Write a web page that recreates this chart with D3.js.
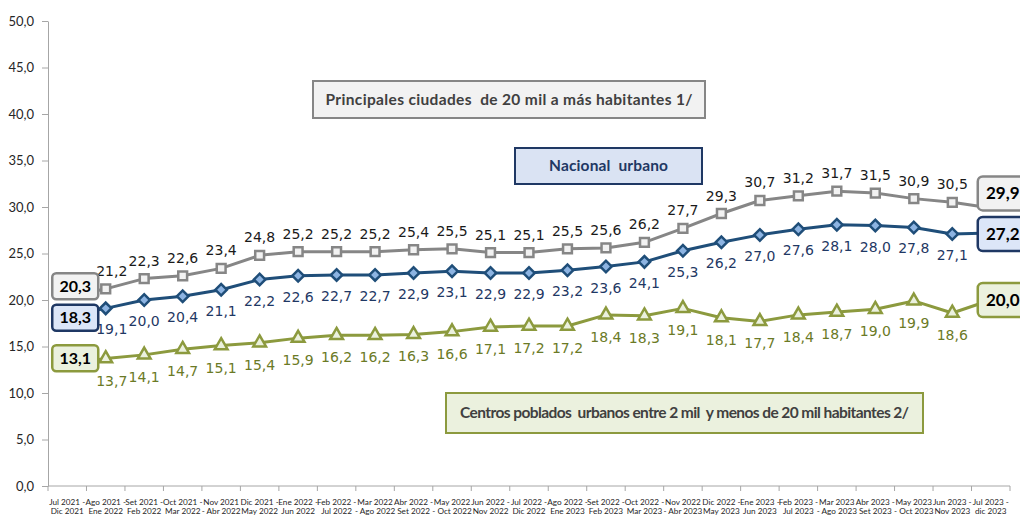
<!DOCTYPE html>
<html>
<head>
<meta charset="utf-8">
<script src="https://cdn.jsdelivr.net/npm/d3@7"></script>
<style>
  body { margin: 0; background: #fff; }
  svg { display: block; font-family: Lato, "Open Sans", sans-serif; }
</style>
</head>
<body>
<svg id="chart" width="1020" height="516"></svg>
<script>
// categories (as wrapped on the axis)
const categories = [
  "Jul 2021 -\nDic 2021", "Ago 2021 -\nEne 2022", "Set 2021 -\nFeb 2022", "Oct 2021 -\nMar 2022",
  "Nov 2021\n- Abr 2022", "Dic 2021 -\nMay 2022", "Ene 2022 -\nJun 2022", "Feb 2022 -\nJul 2022",
  "Mar 2022\n- Ago 2022", "Abr 2022 -\nSet 2022", "May 2022\n- Oct 2022", "Jun 2022 -\nNov 2022",
  "Jul 2022 -\nDic 2022", "Ago 2022 -\nEne 2023", "Set 2022 -\nFeb 2023", "Oct 2022 -\nMar 2023",
  "Nov 2022\n- Abr 2023", "Dic 2022 -\nMay 2023", "Ene 2023 -\nJun 2023", "Feb 2023 -\nJul 2023",
  "Mar 2023\n- Ago 2023", "Abr 2023 -\nSet 2023", "May 2023\n- Oct 2023", "Jun 2023 -\nNov 2023",
  "Jul 2023 -\ndic 2023"
];

const principales = [20.3, 21.2, 22.3, 22.6, 23.4, 24.8, 25.2, 25.2, 25.2, 25.4, 25.5, 25.1, 25.1,
  25.5, 25.6, 26.2, 27.7, 29.3, 30.7, 31.2, 31.7, 31.5, 30.9, 30.5, 29.9];
const nacional = [18.3, 19.1, 20.0, 20.4, 21.1, 22.2, 22.6, 22.7, 22.7, 22.9, 23.1, 22.9, 22.9,
  23.2, 23.6, 24.1, 25.3, 26.2, 27.0, 27.6, 28.1, 28.0, 27.8, 27.1, 27.2];
const centros = [13.1, 13.7, 14.1, 14.7, 15.1, 15.4, 15.9, 16.2, 16.2, 16.3, 16.6, 17.1, 17.2,
  17.2, 18.4, 18.3, 19.1, 18.1, 17.7, 18.4, 18.7, 19.0, 19.9, 18.6, 20.0];

const yTicks = [0, 5, 10, 15, 20, 25, 30, 35, 40, 45, 50];

const seriesNames = [
  "Principales ciudades  de 20 mil a más habitantes 1/",
  "Nacional  urbano",
  "Centros poblados  urbanos entre 2 mil  y menos de 20 mil habitantes 2/"
];

const svg = d3.select("svg#chart");
const fmt = v => d3.format(".1f")(v).replace(".", ",");

const x = d3.scaleBand().domain(categories).range([48, 1010]);
const y = d3.scaleLinear().domain([0, 50]).range([486, 21]);
const cx = i => x(categories[i]) + x.bandwidth() / 2;

// y axis
const yAxis = svg.append("g")
  .attr("transform", "translate(48,0)")
  .call(d3.axisLeft(y).tickValues(yTicks).tickSize(6).tickSizeOuter(0).tickFormat(fmt));
yAxis.select(".domain").attr("stroke", "#a6a6a6");
yAxis.selectAll(".tick line").attr("stroke", "#a6a6a6");
yAxis.selectAll(".tick text")
  .attr("x", -14)
  .attr("fill", "#262626")
  .style("font-size", "13px")
  .style("font-family", "Lato, sans-serif");

// x axis: ticks between categories, wrapped labels
const xAxis = svg.append("g").attr("transform", "translate(0,486)");
xAxis.append("line")
  .attr("x1", 48).attr("x2", 1010)
  .attr("stroke", "#a6a6a6");
xAxis.selectAll("line.tk")
  .data(d3.range(categories.length + 1))
  .enter()
  .append("line")
  .attr("class", "tk")
  .attr("x1", i => 48 + i * x.step()).attr("x2", i => 48 + i * x.step())
  .attr("y1", 0).attr("y2", 5)
  .attr("stroke", "#a6a6a6");
const xl = xAxis.selectAll("text")
  .data(categories)
  .enter()
  .append("text")
  .attr("text-anchor", "middle")
  .attr("fill", "#262626")
  .style("font-size", "8.2px");
xl.selectAll("tspan")
  .data((d, i) => d.split("\n").map(t => ({ t, i })))
  .enter()
  .append("tspan")
  .attr("x", d => cx(d.i))
  .attr("y", (d, j) => 19 + j * 8.5)
  .text(d => d.t);

// series
const series = [
  { values: principales, stroke: "#868686", fill: "#f2f2f2", label: "#1a1a1a",
    marker: "square", labelDy: -13, boxFill: "#f2f2f2", boxStroke: "#868686",
    firstDy: -11, lastDy: -14.5 },
  { values: nacional, stroke: "#1f4e79", fill: "#8db4e2", label: "#1f3864",
    marker: "diamond", labelDy: 26, boxFill: "#dce6f8", boxStroke: "#1f3864",
    firstDy: 2, lastDy: 1 },
  { values: centros, stroke: "#8c9a3e", fill: "#ebf1de", label: "#6b7a26",
    marker: "triangle", labelDy: 27, boxFill: "#ebf1de", boxStroke: "#8c9a3e",
    firstDy: -6, lastDy: 0 }
];

const line = d3.line().x((d, i) => cx(i)).y(d => y(d));

series.forEach(s => {
  svg.append("path")
    .datum(s.values)
    .attr("fill", "none")
    .attr("stroke", s.stroke)
    .attr("stroke-width", 3)
    .attr("stroke-linejoin", "round")
    .attr("d", line);
});

series.forEach(s => {
  const sym = s.marker === "triangle" ? d3.symbol(d3.symbolTriangle, 70) : d3.symbol(d3.symbolSquare, s.marker === "diamond" ? 66 : 78);
  const rot = s.marker === "diamond" ? 45 : 0;
  svg.selectAll(null)
    .data(s.values.slice(1, -1))
    .enter()
    .append("path")
    .attr("d", sym)
    .attr("transform", (d, i) => `translate(${cx(i + 1)},${y(d)}) rotate(${rot})`)
    .attr("fill", s.fill)
    .attr("stroke", s.stroke)
    .attr("stroke-width", 2.5);

  // labels next to the first boxes are nudged right, as in the original
  svg.selectAll(null)
    .data(s.values.slice(1, -1))
    .enter()
    .append("text")
    .attr("x", (d, i) => cx(i + 1) + (i === 0 ? 6 : 0))
    .attr("y", d => y(d) + s.labelDy)
    .attr("text-anchor", "middle")
    .attr("fill", s.label)
    .style("font-family", "'DejaVu Sans', sans-serif")
    .style("font-size", "14px")
    .text(fmt);
});

// boxed labels at the first and last points
series.forEach(s => {
  const n = s.values.length;
  const first = svg.append("g")
    .attr("transform", `translate(${cx(0) + 8},${y(s.values[0]) + s.firstDy})`);
  first.append("rect")
    .attr("x", -23).attr("y", -13).attr("width", 46).attr("height", 26).attr("rx", 4)
    .attr("fill", s.boxFill).attr("stroke", s.boxStroke).attr("stroke-width", 2.5);
  first.append("text")
    .attr("text-anchor", "middle").attr("dy", "0.35em")
    .attr("font-weight", "bold").style("font-size", "16px").attr("fill", "#000")
    .text(fmt(s.values[0]));

  const last = svg.append("g")
    .attr("transform", `translate(${cx(n - 1) + 12},${y(s.values[n - 1]) + s.lastDy})`);
  last.append("rect")
    .attr("x", -25).attr("y", -17).attr("width", 52).attr("height", 34).attr("rx", 5)
    .attr("fill", s.boxFill).attr("stroke", s.boxStroke).attr("stroke-width", 2.5);
  last.append("text")
    .attr("text-anchor", "middle").attr("dy", "0.35em")
    .attr("font-weight", "bold").style("font-size", "17px").attr("fill", "#000")
    .text(fmt(s.values[n - 1]));
});

// series name boxes
const nameBoxes = [
  { x: 313, y: 81, w: 392, h: 37, fill: "#f2f2f2", stroke: "#868686", color: "#404040", tw: 367 },
  { x: 515, y: 148, w: 187, h: 36, fill: "#dae3f3", stroke: "#1f3864", color: "#1f3864", tw: 119 },
  { x: 446, y: 393, w: 477, h: 40, fill: "#ebf1de", stroke: "#8c9a3e", color: "#404040", tw: 449 }
];
nameBoxes.forEach((b, i) => {
  svg.append("rect")
    .attr("x", b.x).attr("y", b.y).attr("width", b.w).attr("height", b.h)
    .attr("fill", b.fill).attr("stroke", b.stroke).attr("stroke-width", 2);
  svg.append("text")
    .attr("x", b.x + b.w / 2).attr("y", b.y + b.h / 2)
    .attr("dy", "0.35em").attr("text-anchor", "middle")
    .attr("font-weight", "bold").style("font-size", "15.5px")
    .style("white-space", "pre")
    .attr("textLength", b.tw).attr("lengthAdjust", "spacing")
    .attr("fill", b.color)
    .text(seriesNames[i]);
});
</script>
</body>
</html>
